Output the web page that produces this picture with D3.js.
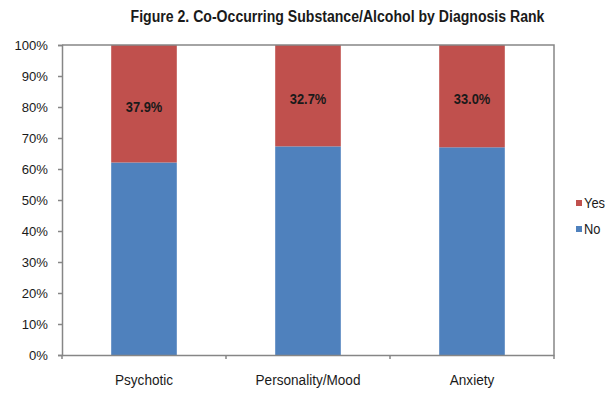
<!DOCTYPE html>
<html>
<head>
<meta charset="utf-8">
<script src="https://cdn.jsdelivr.net/npm/d3@7"></script>
<style>
  html, body { margin: 0; padding: 0; background: #fff; }
  svg { display: block; }
</style>
</head>
<body>
<svg id="chart" width="615" height="394"></svg>
<script>
const categories = ["Psychotic", "Personality/Mood", "Anxiety"];
const yesValues = [37.9, 32.7, 33.0];
const noValues = [62.1, 67.3, 67.0];
const seriesNames = ["Yes", "No"];
const yTicks = [0, 10, 20, 30, 40, 50, 60, 70, 80, 90, 100];
const labelTexts = ["37.9%", "32.7%", "33.0%"];

const colors = { Yes: "#C0504D", No: "#4F81BD" };
const axisColor = "#868686";
const svg = d3.select("#chart");

const pLeft = 62, pRight = 554, pTop = 45, pBottom = 355;

const x = d3.scaleBand().domain(categories).range([pLeft, pRight]).paddingInner(0.6).paddingOuter(0.3);
const y = d3.scaleLinear().domain([0, 100]).range([pBottom, pTop]);

// condense text horizontally (stand-in for a narrow font)
function condense(sel, factor) {
  sel.each(function () {
    const len = this.getComputedTextLength();
    d3.select(this).attr("textLength", len * factor).attr("lengthAdjust", "spacingAndGlyphs");
  });
}

// title
svg.append("text")
  .attr("x", 337.5).attr("y", 22)
  .attr("text-anchor", "middle")
  .attr("font-family", "'Liberation Sans', Arial, sans-serif")
  .attr("font-weight", "bold")
  .attr("font-size", 16)
  .attr("fill", "#1a1a1a")
  .text("Figure 2. Co-Occurring Substance/Alcohol by Diagnosis Rank")
  .call(condense, 0.88);

// bars
const stacked = categories.map((c, i) => ({ cat: c, no: noValues[i], yes: yesValues[i], label: labelTexts[i] }));
const g = svg.append("g");
g.selectAll("rect.no").data(stacked).join("rect")
  .attr("class", "no")
  .attr("x", d => x(d.cat)).attr("width", x.bandwidth())
  .attr("y", d => y(d.no)).attr("height", d => y(0) - y(d.no))
  .attr("fill", colors.No);
g.selectAll("rect.yes").data(stacked).join("rect")
  .attr("class", "yes")
  .attr("x", d => x(d.cat)).attr("width", x.bandwidth())
  .attr("y", d => y(d.no + d.yes)).attr("height", d => y(d.no) - y(d.no + d.yes))
  .attr("fill", colors.Yes);

// data labels
g.selectAll("text.lbl").data(stacked).join("text")
  .attr("class", "lbl")
  .attr("x", d => x(d.cat) + x.bandwidth() / 2)
  .attr("y", d => (y(d.no) + y(d.no + d.yes)) / 2 + 8)
  .attr("text-anchor", "middle")
  .attr("font-family", "'Liberation Sans', Arial, sans-serif")
  .attr("font-weight", "bold")
  .attr("font-size", 14)
  .attr("fill", "#1a1a1a")
  .text(d => d.label)
  .call(condense, 0.92);

// plot border (top and right)
svg.append("path")
  .attr("d", `M${pLeft},${pTop}H${pRight}V${pBottom}`)
  .attr("fill", "none").attr("stroke", axisColor).attr("stroke-width", 1.5);

// y axis
const yAxis = d3.axisLeft(y).tickValues(yTicks).tickFormat(d => d + "%").tickSize(4).tickPadding(10);
const ya = svg.append("g").attr("transform", `translate(${pLeft},0)`).call(yAxis);
ya.select(".domain").attr("stroke", axisColor).attr("stroke-width", 1.5);
ya.selectAll(".tick line").attr("stroke", axisColor).attr("stroke-width", 1.5);
ya.selectAll(".tick text")
  .attr("font-family", "'Liberation Sans', Arial, sans-serif")
  .attr("font-size", 13.5).attr("fill", "#1a1a1a")
  .call(condense, 0.97);

// x axis
const xAxis = d3.axisBottom(x).tickSize(0).tickPadding(20);
const xa = svg.append("g").attr("transform", `translate(0,${pBottom})`).call(xAxis);
xa.select(".domain").attr("stroke", axisColor).attr("stroke-width", 1.5);
xa.selectAll(".tick text")
  .attr("font-family", "'Liberation Sans', Arial, sans-serif")
  .attr("font-size", 14).attr("fill", "#1a1a1a")
  .call(condense, 0.97);
// category boundary ticks
const bounds = d3.range(categories.length + 1).map(i => pLeft + i * x.step());
xa.selectAll("line.bound").data(bounds).join("line")
  .attr("class", "bound")
  .attr("x1", d => d).attr("x2", d => d)
  .attr("y1", 0).attr("y2", 4)
  .attr("stroke", axisColor).attr("stroke-width", 1.5);

// legend
const legend = svg.append("g");
seriesNames.forEach((s, i) => {
  const ly = 203 + i * 26;
  legend.append("rect").attr("x", 576).attr("y", ly - 3).attr("width", 6).attr("height", 6).attr("fill", colors[s]);
  legend.append("text").attr("x", 584).attr("y", ly + 5)
    .attr("font-family", "'Liberation Sans', Arial, sans-serif")
    .attr("font-size", 14).attr("fill", "#1a1a1a")
    .text(s)
    .call(condense, 0.92);
});
</script>
</body>
</html>
